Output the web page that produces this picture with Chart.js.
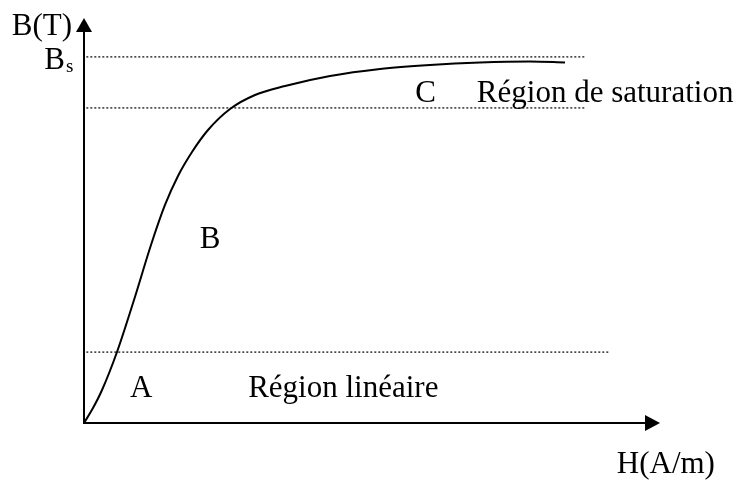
<!DOCTYPE html>
<html>
<head>
<meta charset="utf-8">
<script src="https://cdn.jsdelivr.net/npm/chart.js@4.4.1/dist/chart.umd.min.js"></script>
<style>
  body { margin: 0; background: #fff; }
  #wrap { width: 745px; height: 481px; }
</style>
</head>
<body>
<div id="wrap"><canvas id="chart" width="745" height="481"></canvas></div>
<script>
// magnetisation curve B(H), arbitrary units (axes go 0..100)
const fieldH = [0, 1.56, 3.13, 5.73, 8.68, 11.63, 14.06, 16.32, 18.75, 21.53, 25.35, 29.69, 34.9, 42.71, 51.39, 60.07, 68.75, 77.43, 83.51];
const inductionB = [0, 3.7, 8.15, 17.53, 30.37, 43.95, 53.83, 60.99, 66.91, 72.35, 77.53, 80.99, 83.21, 85.68, 87.41, 88.4, 89.01, 89.26, 89.01];

// dotted reference levels and how far along H they run
const refLevels = [90.4, 77.8, 17.5];
const refEnds = [87, 87, 91.3];

// text on the figure
const regionLabels = ['A', 'Région linéaire', 'B', 'C', 'Région de saturation'];
const regionH = [8.0, 28.5, 20.1, 57.5, 68.2];
const regionB = [6.5, 6.5, 43.2, 79.3, 79.3];
const yTitle = 'B(T)';
const xTitle = 'H(A/m)';
const satLabel = 'B';
const satSub = 's';

const FONT = "'Liberation Serif', 'Times New Roman', serif";

const curve = fieldH.map((h, i) => ({ x: h, y: inductionB[i] }));

const refSets = refLevels.map((lvl, i) => ({
  data: [{ x: 0.4, y: lvl }, { x: refEnds[i], y: lvl }],
  borderColor: '#333',
  borderWidth: 1.5,
  borderDash: [2, 2],
  pointRadius: 0,
  fill: false,
}));

// axes with arrow heads + all the text
const figurePlugin = {
  id: 'figure',
  afterDraw(chart) {
    const { ctx, chartArea, scales } = chart;
    const x0 = scales.x.getPixelForValue(0);
    const y0 = scales.y.getPixelForValue(0);
    ctx.save();
    ctx.strokeStyle = '#000';
    ctx.fillStyle = '#000';
    ctx.lineWidth = 2;

    // y axis
    ctx.beginPath();
    ctx.moveTo(x0, y0 + 1);
    ctx.lineTo(x0, chartArea.top + 12);
    ctx.stroke();
    ctx.beginPath();
    ctx.moveTo(x0, chartArea.top);
    ctx.lineTo(x0 - 8, chartArea.top + 14);
    ctx.lineTo(x0 + 8, chartArea.top + 14);
    ctx.closePath();
    ctx.fill();

    // x axis
    ctx.beginPath();
    ctx.moveTo(x0 - 1, y0);
    ctx.lineTo(chartArea.right - 14, y0);
    ctx.stroke();
    ctx.beginPath();
    ctx.moveTo(chartArea.right, y0);
    ctx.lineTo(chartArea.right - 15, y0 - 8);
    ctx.lineTo(chartArea.right - 15, y0 + 8);
    ctx.closePath();
    ctx.fill();

    // labels
    ctx.font = '31px ' + FONT;
    ctx.textBaseline = 'alphabetic';
    ctx.textAlign = 'left';
    regionLabels.forEach((t, i) => {
      ctx.fillText(t, scales.x.getPixelForValue(regionH[i]), scales.y.getPixelForValue(regionB[i]));
    });

    ctx.textAlign = 'right';
    ctx.fillText(yTitle, x0 - 12, chartArea.top + 17);

    const ys = scales.y.getPixelForValue(refLevels[0]);
    ctx.fillText(satLabel, x0 - 19, ys + 12);
    ctx.textAlign = 'left';
    ctx.font = '19px ' + FONT;
    ctx.fillText(satSub, x0 - 18, ys + 15);

    ctx.font = '31px ' + FONT;
    ctx.fillText(xTitle, scales.x.getPixelForValue(92.5), y0 + 50);
    ctx.restore();
  }
};

new Chart(document.getElementById('chart'), {
  type: 'line',
  data: {
    datasets: [
      {
        data: curve,
        borderColor: '#000',
        borderWidth: 2,
        pointRadius: 0,
        cubicInterpolationMode: 'monotone',
        fill: false,
      },
      ...refSets,
    ],
  },
  options: {
    responsive: false,
    animation: false,
    layout: { padding: { left: 84, right: 85, top: 18, bottom: 58 } },
    scales: {
      x: { type: 'linear', min: 0, max: 100, display: false },
      y: { type: 'linear', min: 0, max: 100, display: false },
    },
    plugins: {
      legend: { display: false },
      tooltip: { enabled: false },
    },
  },
  plugins: [figurePlugin],
});
</script>
</body>
</html>
